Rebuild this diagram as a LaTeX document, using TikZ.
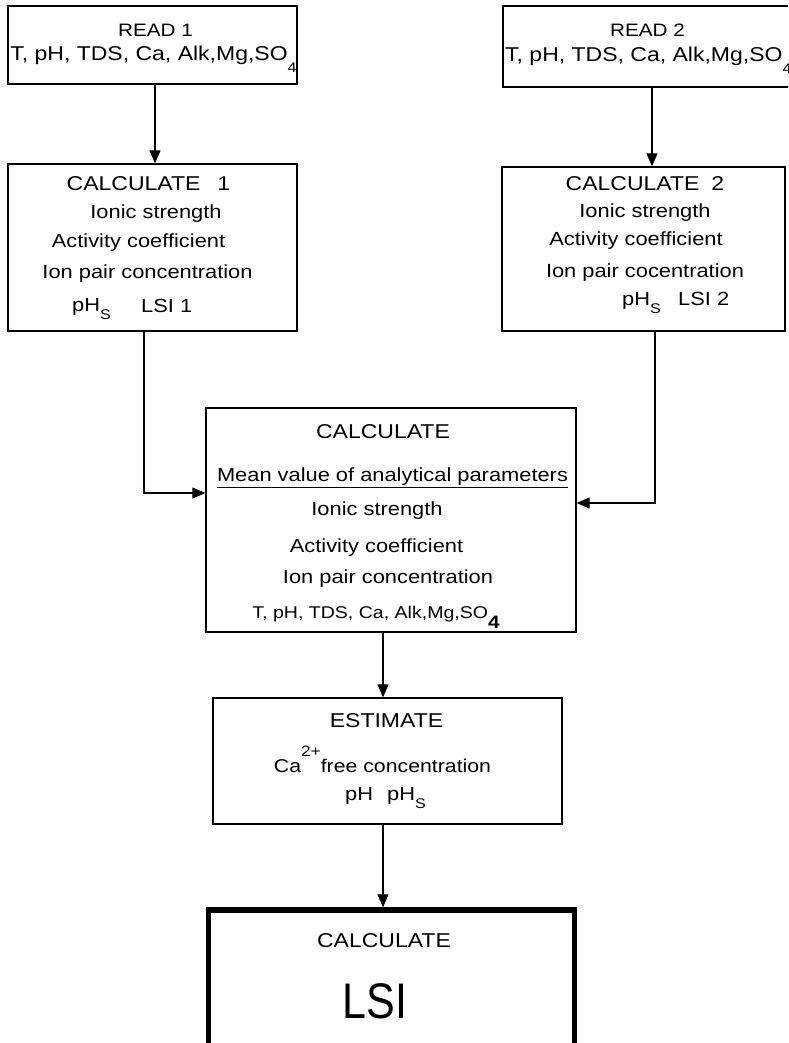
\documentclass[tikz,border=0pt]{standalone}
\usepackage{fontspec}
\usepackage{graphicx}
\setmainfont{Liberation Sans}[FakeStretch=1.15]
\newfontfamily\plainsans{Liberation Sans}
\usetikzlibrary{arrows.meta}
\newcommand\setfs[1]{\fontsize{#1}{#1}\selectfont}
\newcommand\lsub[3]{\raisebox{-#1pt}{\setfs{#2}#3}}
\begin{document}
\begin{tikzpicture}[x=1pt,y=-1pt,
  box/.style={draw, line width=1.3pt, rectangle, inner sep=0pt},
  bigbox/.style={draw, line width=5.5pt, rectangle, inner sep=0pt},
  txt/.style={inner sep=0pt, anchor=base, font=\setfs{19}},
  txtw/.style={inner sep=0pt, anchor=base west, font=\setfs{19}},
  ttl/.style={inner sep=0pt, anchor=base, font=\setfs{20}},
  arr/.style={line width=1.1pt, -{Triangle[length=13pt,width=11pt]}}]
\fill[white] (0,0) rectangle (788,1043);
\useasboundingbox (0,0) rectangle (788,1043);
\clip (0,0) rectangle (788,1043);

% boxes
\node[box, minimum width=289pt, minimum height=78pt] (read1) at (152.5,45) {};
\node[box, minimum width=292pt, minimum height=81pt] (read2) at (649,46.5) {};
\node[box, minimum width=289pt, minimum height=167pt] (calc1) at (152.5,247.5) {};
\node[box, minimum width=283pt, minimum height=164pt] (calc2) at (643.5,249) {};
\node[box, minimum width=370pt, minimum height=224pt] (mid) at (391,520) {};
\node[box, minimum width=349pt, minimum height=126pt] (est) at (387.5,761) {};
\node[bigbox, minimum width=366pt, minimum height=136pt] (lsi) at (391.5,978) {};

% READ 1
\node[ttl, font=\setfs{18}] (r1a) at (155.5,37) {READ 1};
\node[txt, font=\setfs{20}] (r1b) at (153.5,61) {T, pH, TDS, Ca, Alk,Mg,SO\lsub{12}{14}{4}};
% READ 2
\node[ttl, font=\setfs{18}] (r2a) at (647.5,37) {READ 2};
\node[txtw, font=\setfs{20}] (r2b) at (505,62) {T, pH, TDS, Ca, Alk,Mg,SO\lsub{12}{14}{4}};

% CALCULATE 1
\node[ttl] (c1a) at (148.5,190) {CALCULATE\hspace{17pt}1};
\node[txt] (c1b) at (156,218) {Ionic strength};
\node[txt] (c1c) at (138.5,247) {Activity coefficient};
\node[txt] (c1d) at (147.5,278) {Ion pair concentration};
\node[txtw] (c1e) at (72,311) {pH\lsub{8}{14}{S}};
\node[txtw] (c1f) at (141,312) {LSI 1};

% CALCULATE 2
\node[ttl] (c2a) at (645,190) {CALCULATE\hspace{12pt}2};
\node[txt] (c2b) at (645,217) {Ionic strength};
\node[txt] (c2c) at (636,245) {Activity coefficient};
\node[txt] (c2d) at (645,277) {Ion pair cocentration};
\node[txtw] (c2e) at (622,305) {pH\lsub{8}{14}{S}};
\node[txtw] (c2f) at (678,305) {LSI 2};

% CALCULATE (middle)
\node[ttl] (ma) at (383,438) {CALCULATE};
\node[txt] (mean) at (392.5,481) {Mean value of analytical parameters};
\draw[line width=1pt] ([yshift=-6pt]mean.base west) -- ([yshift=-6pt]mean.base east);
\node[txt] (mb) at (377,515) {Ionic strength};
\node[txt] (mc) at (376.5,552) {Activity coefficient};
\node[txt] (md) at (388,583) {Ion pair concentration};
\node[txt, font=\setfs{17}] (me) at (376,618) {T, pH, TDS, Ca, Alk,Mg,SO\lsub{10}{18}{\bfseries 4}};

% ESTIMATE
\node[ttl] (ea) at (386.5,727) {ESTIMATE};
\node[txt, font=\setfs{18.5}] (eb) at (382.5,772) {Ca\raisebox{16pt}{\setfs{15}2+}free concentration};
\node[txtw] (ec) at (345,800) {pH\hspace{14pt}pH\lsub{8}{14}{S}};

% LSI
\node[ttl] (la) at (384,947) {CALCULATE};
\node[inner sep=0pt, anchor=base] (lb) at (375,1018) {\scalebox{0.86}[1]{\plainsans\setfs{50}LSI}};

% connectors
\draw[arr] ([xshift=2.5pt]read1.south) -- ([xshift=2.5pt]calc1.north);
\draw[arr] ([xshift=3pt]read2.south) -- ([xshift=8.5pt]calc2.north);
\draw[arr] ([xshift=-8.5pt]calc1.south) |- ([yshift=27pt]mid.west);
\draw[arr] ([xshift=11.5pt]calc2.south) |- ([yshift=17pt]mid.east);
\draw[arr] ([xshift=-8pt]mid.south) -- ([xshift=-4.5pt]est.north);
\draw[arr] ([xshift=-4.5pt]est.south) -- ([xshift=-8.5pt]lsi.north);
\end{tikzpicture}
\end{document}
